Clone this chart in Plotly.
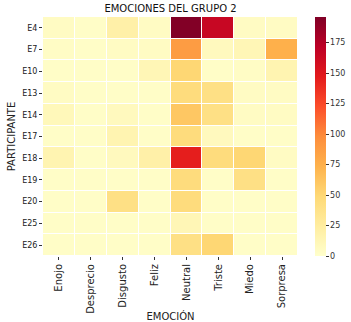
import plotly.graph_objects as go

emociones = ["Enojo", "Desprecio", "Disgusto", "Feliz", "Neutral", "Triste", "Miedo", "Sorpresa"]
participantes = ["E4", "E7", "E10", "E13", "E14", "E17", "E18", "E19", "E20", "E25", "E26"]

E4 = [5, 3, 20, 5, 195, 165, 5, 5]
E7 = [4, 3, 5, 5, 88, 8, 12, 75]
E10 = [3, 3, 3, 12, 50, 3, 4, 15]
E13 = [5, 3, 3, 3, 45, 40, 5, 5]
E14 = [10, 3, 8, 3, 60, 40, 5, 5]
E17 = [3, 3, 15, 3, 45, 8, 3, 3]
E18 = [15, 3, 8, 20, 145, 45, 50, 5]
E19 = [3, 3, 3, 3, 45, 3, 40, 3]
E20 = [3, 3, 40, 3, 45, 3, 3, 3]
E25 = [3, 3, 3, 3, 12, 3, 3, 3]
E26 = [3, 3, 3, 3, 40, 50, 3, 3]
valores = [E4, E7, E10, E13, E14, E17, E18, E19, E20, E25, E26]

ylorrd = ["#ffffcc", "#ffeda0", "#fed976", "#feb24c", "#fd8d3c",
          "#fc4e2a", "#e31a1c", "#bd0026", "#800026"]
cscale = [[i / (len(ylorrd) - 1), c] for i, c in enumerate(ylorrd)]

font = "DejaVu Sans"

fig = go.Figure(go.Heatmap(
    z=valores, x=emociones, y=participantes,
    colorscale=cscale, zmin=0, zmax=196,
    xgap=1, ygap=1,
    colorbar=dict(
        x=1.067, xanchor="left", xpad=0, ypad=0,
        y=0.5, yanchor="middle", len=1.0,
        thickness=11, outlinewidth=0,
        tickvals=[0, 25, 50, 75, 100, 125, 150, 175],
        ticks="outside", ticklen=3, tickcolor="#333",
        tickfont=dict(family=font, size=8, color="#333"),
    ),
))

fig.update_layout(
    width=351, height=322,
    margin=dict(l=43, r=53, t=17, b=66, autoexpand=False),
    paper_bgcolor="white", plot_bgcolor="white",
    title=dict(text="EMOCIONES DEL GRUPO 2", x=0.5, xanchor="center",
               xref="paper", y=0.985, yanchor="top",
               font=dict(family=font, size=10, color="#111")),
    font=dict(family=font, color="#222"),
    xaxis=dict(
        automargin=False,
        tickangle=-90, ticks="outside", ticklen=3, tickcolor="#333",
        tickfont=dict(family=font, size=10, color="#222"),
        title=dict(text="EMOCIÓN", font=dict(family=font, size=10, color="#222"), standoff=4),
        showgrid=False, zeroline=False, showline=False,
    ),
    yaxis=dict(
        automargin=False,
        autorange="reversed", ticks="outside", ticklen=3, tickcolor="#333",
        tickfont=dict(family=font, size=8, color="#222"),
        title=dict(text="PARTICIPANTE", font=dict(family=font, size=10, color="#222"), standoff=4),
        showgrid=False, zeroline=False, showline=False,
    ),
)

fig.write_html("out.html", config={"displayModeBar": False},
               post_script="document.body.style.margin='0';document.body.style.overflow='hidden';")
